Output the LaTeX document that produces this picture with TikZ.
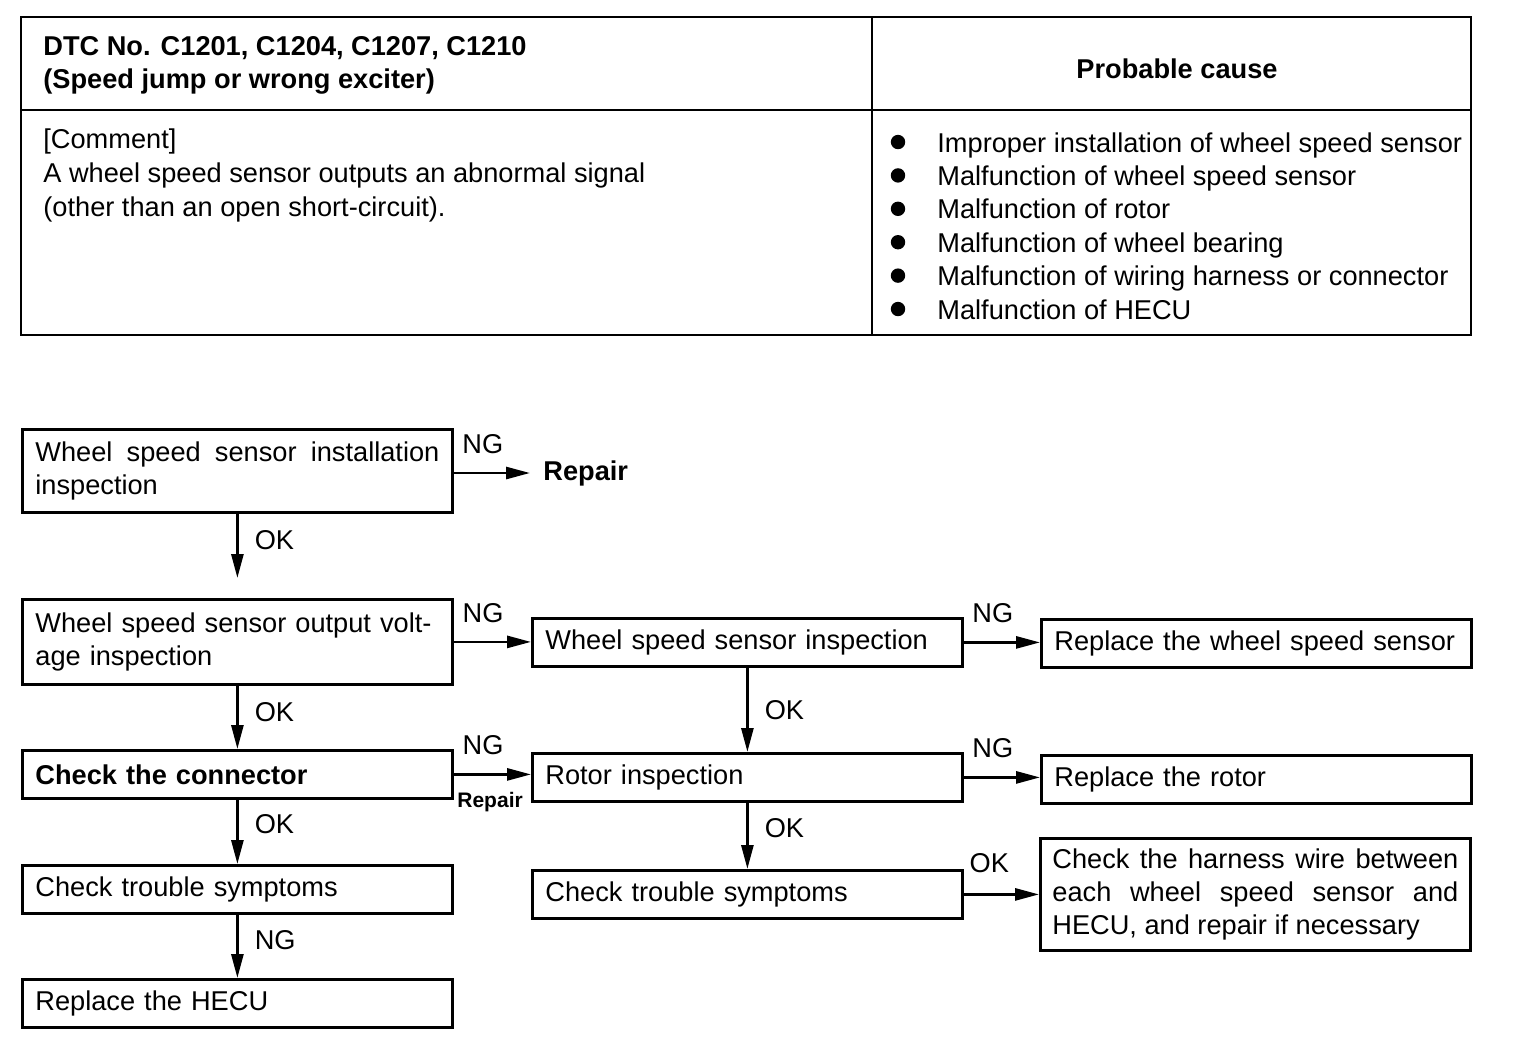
\documentclass[tikz,border=0pt]{standalone}
\usepackage{fontspec}
\setmainfont{Liberation Sans}
\usetikzlibrary{arrows.meta}

\tikzset{
  flowbox/.style={draw, line width=1.4pt, anchor=north west, inner xsep=6.5pt, inner ysep=0pt,
    text width=202pt, align=left, minimum height=24pt},
  arr/.style={line width=1.4pt, -{Triangle[length=12pt,width=6pt]}},
  lbl/.style={inner sep=0pt},
}

\begin{document}
\begin{tikzpicture}[x=0.5pt, y=-0.5pt, font=\fontsize{13.6pt}{16.5pt}\selectfont]
    \useasboundingbox (0,0) rectangle (1536,1062);

    % Table of the fault code
    \draw[line width=1.4pt] (21,17) rectangle (1471,335);
    \draw[line width=1.4pt] (21,110) -- (1471,110);
    \draw[line width=1.4pt] (872,17) -- (872,335);

    \node[lbl, anchor=west, align=left, font=\fontsize{13.6pt}{16.5pt}\selectfont\bfseries] (dtc) at (43,65)
        {DTC No. C1201, C1204, C1207, C1210\\(Speed jump or wrong exciter)};
    \node[lbl, font=\fontsize{13.6pt}{16.5pt}\selectfont\bfseries] (cause) at (1177,69) {Probable cause};
    \node[lbl, anchor=north west, align=left, font=\fontsize{13.6pt}{17pt}\selectfont] (comment) at (43,128)
        {[Comment]\\A wheel speed sensor outputs an abnormal signal\\(other than an open short-circuit).};

    % Probable causes
    \foreach \t [count=\i] in {Improper installation of wheel speed sensor,
        Malfunction of wheel speed sensor, Malfunction of rotor, Malfunction of wheel bearing,
        Malfunction of wiring harness or connector, Malfunction of HECU} {
      \fill (898,{108.6+33.4*\i}) circle (3.6pt);
      \node[lbl, anchor=base west] (c\i) at (937,{118.6+33.4*\i}) {\t};
    }

    % Flow chart boxes
    \node[flowbox, align=justify, minimum height=41.5pt] (inst) at (21,428)
        {Wheel speed sensor installation\linebreak inspection};
    \node[anchor=west, inner xsep=6.5pt, inner ysep=0pt, font=\fontsize{13.6pt}{16.5pt}\selectfont\bfseries] (repair) at (530,473) {Repair};
    \node[flowbox, minimum height=42.5pt] (volt) at (21,598)
        {Wheel speed sensor output volt-\\age inspection};
    \node[flowbox] (sensor) at (531,617) {Wheel speed sensor inspection};
    \node[flowbox] (repsensor) at (1040,618) {Replace the wheel speed sensor};
    \node[flowbox, font=\fontsize{13.6pt}{16.5pt}\selectfont\bfseries] (conn) at (21,749) {Check the connector};
    \node[flowbox] (rotor) at (531,752) {Rotor inspection};
    \node[flowbox] (reprotor) at (1040,754) {Replace the rotor};
    \node[flowbox] (symleft) at (21,864) {Check trouble symptoms};
    \node[flowbox] (symright) at (531,869) {Check trouble symptoms};
    \node[flowbox, align=justify, text width=203pt, inner xsep=6pt, minimum height=56pt] (harness) at (1039,837)
        {Check the harness wire between\linebreak each wheel speed sensor and\linebreak HECU, and repair if necessary};
    \node[flowbox] (hecu) at (21,978) {Replace the HECU};

    % Connectors
    \draw[arr] (inst.east |- repair) -- (repair.west)
        node[lbl, above=9pt, pos=0.38] (ng1) {NG};
    \draw[arr, shorten >=10pt] (inst) -- (volt)
        node[lbl, right=8pt, pos=0.31] (ok1) {OK};
    \draw[arr] (volt.east) -- (volt.east -| sensor.west)
        node[lbl, above=9pt, pos=0.38] (ng2) {NG};
    \draw[arr] (sensor.east) -- (sensor.east -| repsensor.west)
        node[lbl, above=9pt, pos=0.38] (ng3) {NG};
    \draw[arr] (volt) -- (conn)
        node[lbl, right=8pt, pos=0.42] (ok2) {OK};
    \draw[arr] (conn.east) -- (conn.east -| rotor.west)
        node[lbl, above=9pt, pos=0.38] (ng4) {NG}
        node[lbl, below=8pt, pos=0.47, font=\fontsize{10.5pt}{12pt}\selectfont\bfseries] (rep2) {Repair};
    \draw[arr] (sensor) -- (rotor)
        node[lbl, right=8pt, pos=0.5] (ok3) {OK};
    \draw[arr] (rotor.east) -- (rotor.east -| reprotor.west)
        node[lbl, above=9pt, pos=0.38] (ng5) {NG};
    \draw[arr] (conn) -- (symleft)
        node[lbl, right=8pt, pos=0.38] (ok4) {OK};
    \draw[arr] (rotor) -- (symright)
        node[lbl, right=8pt, pos=0.38] (ok5) {OK};
    \draw[arr] (symright.east) -- (symright.east -| harness.west)
        node[lbl, above=10pt, pos=0.34] (ok6) {OK};
    \draw[arr] (symleft) -- (hecu)
        node[lbl, right=8pt, pos=0.4] (ng6) {NG};

\end{tikzpicture}
\end{document}
